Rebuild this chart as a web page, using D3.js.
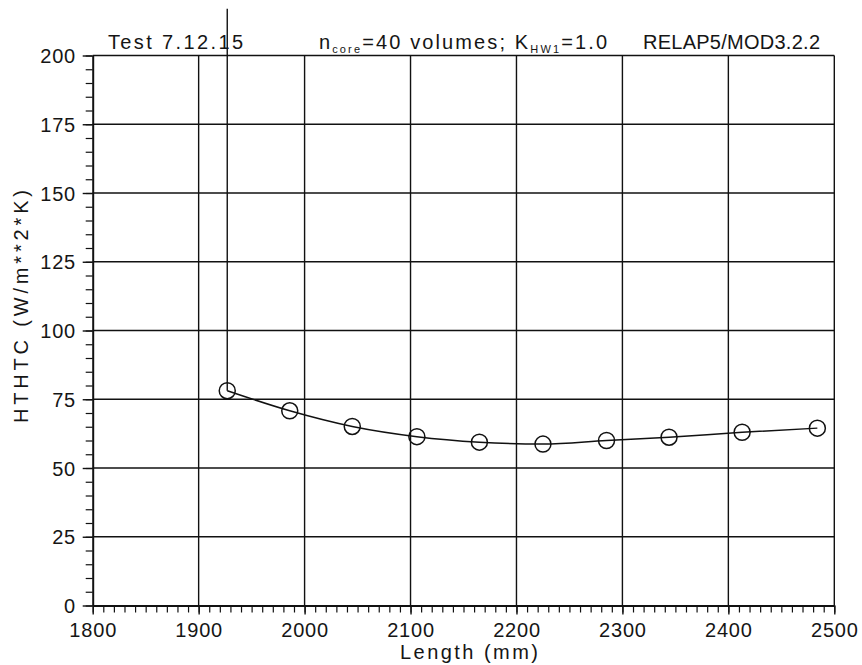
<!DOCTYPE html>
<html><head><meta charset="utf-8">
<script src="https://cdn.jsdelivr.net/npm/d3@7/dist/d3.min.js"></script>
<style>
body{margin:0;background:#fff}
text{font-family:"Liberation Sans",Arial,sans-serif;fill:#151515}
</style>
</head><body>
<svg id="c" width="862" height="665"></svg>
<script>
// ---- data ----
const lengthMM = [1927, 1986, 2045, 2106, 2165, 2225, 2285, 2344, 2413, 2484];
const hthtc    = [78.1, 70.8, 65.1, 61.4, 59.4, 58.7, 60.0, 61.2, 63.0, 64.5];
const markerValues = [78.1, 217];          // vertical marker at the first point
const xTicks = [1800, 1900, 2000, 2100, 2200, 2300, 2400, 2500];
const xTickLabels = ["1800", "1900", "2000", "2100", "2200", "2300", "2400", "2500"];
const yTicks = [0, 25, 50, 75, 100, 125, 150, 175, 200];
const yTickLabels = ["0", "25", "50", "75", "100", "125", "150", "175", "200"];
const xMinorStep = 10, yMinorStep = 5;
const titleLeft = "Test 7.12.15";
const titleRight = "RELAP5/MOD3.2.2";
const xLabel = "Length  (mm)";
const yLabel = "HTHTC  (W/m**2*K)";

// ---- layout ----
const svg = d3.select("#c");
const L = 92.7, R = 834.3, T = 55.5, B = 605.5;
const x = d3.scaleLinear().domain([1800, 2500]).range([L, R]);
const y = d3.scaleLinear().domain([0, 200]).range([B, T]);
const ink = "#111";
const fontFam = '"Liberation Sans",Arial,sans-serif';

// grid (incl. top and right border)
const g = svg.append("g");
g.selectAll(".vg").data(xTicks.slice(1)).enter().append("line")
  .attr("x1", d => x(d)).attr("x2", d => x(d)).attr("y1", y(0)).attr("y2", y(200))
  .attr("stroke", ink).attr("stroke-width", 1.4);
g.selectAll(".hg").data(yTicks.slice(1)).enter().append("line")
  .attr("x1", x(1800)).attr("x2", x(2500)).attr("y1", d => y(d)).attr("y2", d => y(d))
  .attr("stroke", ink).attr("stroke-width", 1.4);

// minor ticks
const xMinor = d3.range(1800, 2500.1, xMinorStep);
const yMinor = d3.range(0, 200.1, yMinorStep);
svg.append("g").attr("transform", `translate(0,${B})`)
  .call(d3.axisBottom(x).tickValues(xMinor).tickSize(7).tickSizeOuter(0).tickFormat(""))
  .call(s => s.select(".domain").remove())
  .call(s => s.selectAll("line").attr("stroke", ink).attr("stroke-width", 1.2));
svg.append("g").attr("transform", `translate(${L},0)`)
  .call(d3.axisLeft(y).tickValues(yMinor).tickSize(7).tickSizeOuter(0).tickFormat(""))
  .call(s => s.select(".domain").remove())
  .call(s => s.selectAll("line").attr("stroke", ink).attr("stroke-width", 1.2));

// major axes
svg.append("g").attr("transform", `translate(0,${B})`)
  .call(d3.axisBottom(x).tickValues(xTicks).tickSize(9).tickSizeOuter(0)
        .tickFormat((d, i) => xTickLabels[i]))
  .call(s => s.select(".domain").attr("stroke", ink).attr("stroke-width", 2))
  .call(s => s.selectAll("line").attr("stroke", ink).attr("stroke-width", 1.4))
  .call(s => s.selectAll("text").attr("y", 31.5).attr("dy", 0)
        .attr("font-size", 20).attr("letter-spacing", 0.8).attr("fill", "#151515")
        .style("font-family", fontFam));
svg.append("g").attr("transform", `translate(${L},0)`)
  .call(d3.axisLeft(y).tickValues(yTicks).tickSize(10).tickPadding(6.7).tickSizeOuter(0)
        .tickFormat((d, i) => yTickLabels[i]))
  .call(s => s.select(".domain").attr("stroke", ink).attr("stroke-width", 2))
  .call(s => s.selectAll("line").attr("stroke", ink).attr("stroke-width", 1.4))
  .call(s => s.selectAll("text").attr("dy", "0.36em")
        .attr("font-size", 20).attr("letter-spacing", 0.8).attr("fill", "#151515")
        .style("font-family", fontFam));

// marker vertical line
svg.append("line")
  .attr("x1", x(lengthMM[0])).attr("x2", x(lengthMM[0]))
  .attr("y1", y(markerValues[0])).attr("y2", y(markerValues[1]))
  .attr("stroke", ink).attr("stroke-width", 1.4);

// curve
const pts = lengthMM.map((d, i) => [d, hthtc[i]]);
svg.append("path").datum(pts)
  .attr("d", d3.line().x(d => x(d[0])).y(d => y(d[1])).curve(d3.curveMonotoneX))
  .attr("fill", "none").attr("stroke", ink).attr("stroke-width", 1.5);

// circles
svg.selectAll(".pt").data(pts).enter().append("circle")
  .attr("cx", d => x(d[0])).attr("cy", d => y(d[1])).attr("r", 8)
  .attr("fill", "none").attr("stroke", ink).attr("stroke-width", 1.5);

// titles
svg.append("text").attr("x", 108).attr("y", 49).attr("font-size", 20)
  .attr("textLength", 135).attr("lengthAdjust", "spacing").text(titleLeft);

const mid = svg.append("text").attr("x", 319).attr("y", 49).attr("font-size", 20)
  .attr("textLength", 288).attr("lengthAdjust", "spacing");
mid.append("tspan").text("n");
mid.append("tspan").attr("font-size", 11).attr("dy", 4).text("core");
mid.append("tspan").attr("dy", -4).text("=40  volumes;  K");
mid.append("tspan").attr("font-size", 11).attr("dy", 4).text("HW1");
mid.append("tspan").attr("dy", -4).text("=1.0");

svg.append("text").attr("x", 643).attr("y", 49).attr("font-size", 20)
  .attr("textLength", 177).attr("lengthAdjust", "spacing").text(titleRight);

// axis labels
svg.append("text").attr("x", 400).attr("y", 659).attr("font-size", 20)
  .attr("textLength", 138).attr("lengthAdjust", "spacing").text(xLabel);
svg.append("text").attr("transform", "translate(28,423) rotate(-90)")
  .attr("font-size", 20).attr("textLength", 233).attr("lengthAdjust", "spacing").text(yLabel);
</script>
</body></html>
